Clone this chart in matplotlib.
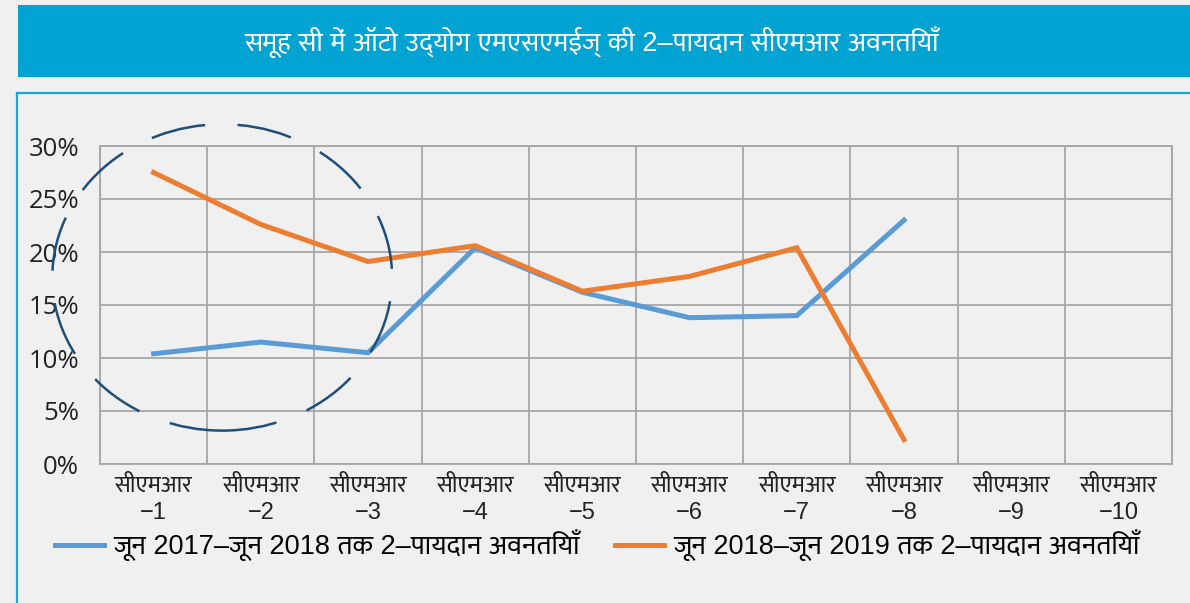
import matplotlib
matplotlib.use("Agg")
import matplotlib.pyplot as plt
from matplotlib.patches import Rectangle, Ellipse
from matplotlib.lines import Line2D

title = "समूह सी में ऑटो उद्योग एमएसएमईज् की 2–पायदान सीएमआर अवनतियाँ"
categories = ["सीएमआर\n−%d" % i for i in range(1, 11)]
series1_name = "जून 2017–जून 2018 तक 2–पायदान अवनतियाँ"
series2_name = "जून 2018–जून 2019 तक 2–पायदान अवनतियाँ"
# values in %, only first 8 categories have data
series1 = [10.4, 11.5, 10.5, 20.4, 16.2, 13.8, 14.0, 23.0]
series2 = [27.5, 22.6, 19.1, 20.6, 16.3, 17.7, 20.4, 2.3]
yticks = [0, 5, 10, 15, 20, 25, 30]

hindi = ["Liberation Sans", "Ek Mukta", "DejaVu Sans"]
bg = "#f0f0f0"
blue = "#5b9bd5"
orange = "#ed7d31"
gridc = "#a6a6a6"

fig = plt.figure(figsize=(11.9, 6.03), dpi=100, facecolor=bg)

# title banner
fig.patches.append(Rectangle((18 / 1190, 1 - 77 / 603), 1 - 18 / 1190, 72 / 603,
                             transform=fig.transFigure, facecolor="#00a3d2",
                             edgecolor="none", zorder=0))
fig.text(592 / 1190, 1 - 42 / 603, title, color="white", fontsize=19.5,
         family=hindi, ha="center", va="center")

# box border
fig.add_artist(Line2D([17 / 1190, 17 / 1190], [0, 1 - 93 / 603],
                      transform=fig.transFigure, color="#1aa7d6", lw=1.6))
fig.add_artist(Line2D([17 / 1190, 1], [1 - 93 / 603, 1 - 93 / 603],
                      transform=fig.transFigure, color="#1aa7d6", lw=1.6))

ax = fig.add_axes([100 / 1190, 1 - 464 / 603, 1072 / 1190, 318 / 603])
ax.set_facecolor(bg)

x = list(range(len(categories)))
ax.plot(x[:len(series1)], series1, color=blue, lw=3.6, label=series1_name,
        solid_joinstyle="miter", zorder=3)
ax.plot(x[:len(series2)], series2, color=orange, lw=3.6, label=series2_name,
        solid_joinstyle="miter", zorder=4)

ax.set_xlim(-0.5, len(categories) - 0.5)
ax.set_ylim(0, 30)
ax.set_yticks(yticks)
ax.set_yticklabels(["%d%%" % v for v in yticks], fontsize=18.5,
                   family=["Open Sans", "DejaVu Sans"], color="#222222")
ax.set_xticks(x)
ax.set_xticklabels(categories, fontsize=17, family=hindi, color="#222222",
                   linespacing=1.3)
ax.set_xticks([i - 0.5 for i in range(len(categories) + 1)], minor=True)
ax.tick_params(axis="both", which="both", length=0)
ax.tick_params(axis="x", pad=8)
ax.tick_params(axis="y", pad=15)
ax.grid(True, axis="y", color=gridc, lw=1.3)
ax.grid(True, axis="x", which="minor", color=gridc, lw=1.3)
ax.grid(False, axis="x", which="major")
for s in ax.spines.values():
    s.set_color(gridc)
    s.set_linewidth(1.3)

# dashed highlight ellipse
ax.add_patch(Ellipse((0.64, 17.6), 3.17, 28.9, fill=False, edgecolor="#1f4e79",
                     lw=1.8, linestyle=(0, (22, 13)), clip_on=False, zorder=5))

fig.legend(loc="center", bbox_to_anchor=(0.502, 1 - 545 / 603), ncol=2,
           frameon=False, prop={"family": hindi, "size": 19.5},
           handlelength=1.8, handletextpad=0.35, columnspacing=1.3)

fig.savefig("out.png", dpi=100, facecolor=bg)
